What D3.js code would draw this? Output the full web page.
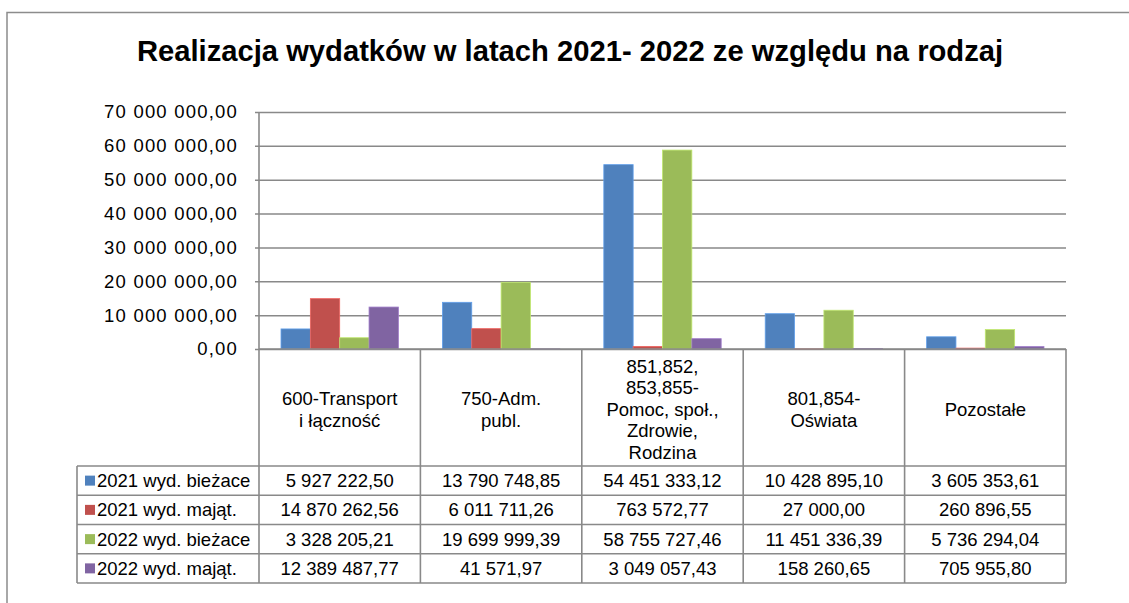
<!DOCTYPE html>
<html><head><meta charset="utf-8">
<script src="https://cdn.jsdelivr.net/npm/d3@7"></script>
<style>body{margin:0;background:#fff;} svg{display:block;font-family:"Liberation Sans",Arial,sans-serif;}</style>
</head><body><svg id="c" width="1129" height="603"></svg>
<script>
const titleText = "Realizacja wydatków w latach 2021- 2022 ze względu na rodzaj";
const categories = ["600", "750", "851-855", "801-854", "Pozostałe"];
const categoryLabels = [
  ["600-Transport", "i łączność"],
  ["750-Adm.", "publ."],
  ["851,852,", "853,855-", "Pomoc, społ.,", "Zdrowie,", "Rodzina"],
  ["801,854-", "Oświata"],
  ["Pozostałe"]
];
const seriesNames = ["2021 wyd. bieżace", "2021 wyd. mająt.", "2022 wyd. bieżace", "2022 wyd. mająt."];
const seriesColors = ["#4F81BD", "#C0504D", "#9BBB59", "#8064A2"];
const wyd2021Biezace = [5927222.50, 13790748.85, 54451333.12, 10428895.10, 3605353.61];
const wyd2021Majat   = [14870262.56, 6011711.26, 763572.77, 27000.00, 260896.55];
const wyd2022Biezace = [3328205.21, 19699999.39, 58755727.46, 11451336.39, 5736294.04];
const wyd2022Majat   = [12389487.77, 41571.97, 3049057.43, 158260.65, 705955.80];
const yTicks = [0, 10000000, 20000000, 30000000, 40000000, 50000000, 60000000, 70000000];

const seriesValues = [wyd2021Biezace, wyd2021Majat, wyd2022Biezace, wyd2022Majat];

const svg = d3.select("#c");
const L = 259, R = 1066, T = 112, B = 349;
const tableLeft = 77, headerBottom = 466, rowH = 29.25;
const gridColor = "#898989";
const fs = 18.5;

const loc = d3.formatLocale({decimal: ",", thousands: " ", grouping: [3], currency: ["", ""]});
const fmt = loc.format(",.2f");

const x = d3.scaleBand().domain(categories).range([L, R]).paddingInner(0).paddingOuter(0);
const y = d3.scaleLinear().domain([0, 70000000]).range([B, T]);
const bw = x.bandwidth() / (seriesNames.length + 1.5);
const xs = d3.scaleBand().domain(seriesNames).range([0.75 * bw, x.bandwidth() - 0.75 * bw]).padding(0);

// outer frame
svg.append("path").attr("d", "M7,603V12.5H1129").attr("fill", "none").attr("stroke", "#8c8c8c").attr("stroke-width", 1.5);

// title
svg.append("text").attr("x", 570).attr("y", 61).attr("text-anchor", "middle")
  .attr("font-weight", "bold").attr("font-size", 29.2).attr("fill", "#000").text(titleText);

// gridlines + y labels
const yAxis = d3.axisLeft(y).tickValues(yTicks).tickFormat(fmt).tickSize(-(R - L)).tickPadding(21);
const gy = svg.append("g").attr("transform", `translate(${L},0)`).call(yAxis);
gy.attr("font-family", null).attr("font-size", null);
gy.select(".domain").remove();
gy.selectAll(".tick line").attr("stroke", gridColor).attr("stroke-width", 1.5).attr("x1", -4);
gy.selectAll(".tick text").attr("font-size", fs).attr("letter-spacing", 1.2).attr("fill", "#000");

// bars
const groups = svg.append("g").selectAll("g").data(categories).join("g")
  .attr("transform", d => `translate(${x(d)},0)`);
groups.selectAll("rect").data((d, ci) => seriesNames.map((s, si) => ({s, si, v: seriesValues[si][ci]})))
  .join("rect")
  .attr("x", d => xs(d.s))
  .attr("width", xs.bandwidth())
  .attr("y", d => y(d.v))
  .attr("height", d => y(0) - y(d.v))
  .attr("fill", d => seriesColors[d.si])
  .attr("stroke", d => d3.color(seriesColors[d.si]).brighter(0.6))
  .attr("stroke-width", 0.8);

// data table grid
const tl = svg.append("g").attr("stroke", gridColor).attr("stroke-width", 1.6).attr("fill", "none");
const bottom = headerBottom + rowH * seriesNames.length;
tl.append("line").attr("x1", L).attr("x2", R).attr("y1", B).attr("y2", B);
tl.append("line").attr("x1", L).attr("x2", L).attr("y1", T).attr("y2", bottom);
categories.forEach(c => {
  const xr = x(c) + x.bandwidth();
  tl.append("line").attr("x1", xr).attr("x2", xr).attr("y1", B).attr("y2", bottom);
});
for (let i = 0; i <= seriesNames.length; i++) {
  const yy = headerBottom + i * rowH;
  tl.append("line").attr("x1", tableLeft).attr("x2", R).attr("y1", yy).attr("y2", yy);
}
tl.append("line").attr("x1", tableLeft).attr("x2", tableLeft).attr("y1", headerBottom).attr("y2", bottom);

// category labels
const lineH = 21.5, headerCenter = 409.5;
categories.forEach((c, ci) => {
  const lines = categoryLabels[ci];
  const cx = x(c) + x.bandwidth() / 2;
  const t = svg.append("text").attr("text-anchor", "middle").attr("font-size", fs).attr("fill", "#000");
  lines.forEach((ln, li) => {
    t.append("tspan").attr("x", cx)
      .attr("y", headerCenter + (li - (lines.length - 1) / 2) * lineH + fs * 0.35)
      .text(ln);
  });
});

// table rows with legend keys
seriesNames.forEach((s, si) => {
  const cy = headerBottom + si * rowH + rowH / 2;
  svg.append("rect").attr("x", 85).attr("y", cy - 5).attr("width", 10).attr("height", 10).attr("fill", seriesColors[si]);
  svg.append("text").attr("x", 97).attr("y", cy + fs * 0.35).attr("font-size", fs).attr("fill", "#000").text(s);
  categories.forEach((c, ci) => {
    svg.append("text").attr("x", x(c) + x.bandwidth() / 2).attr("y", cy + fs * 0.35)
      .attr("text-anchor", "middle").attr("font-size", fs).attr("fill", "#000")
      .text(fmt(seriesValues[si][ci]));
  });
});
</script></body></html>
